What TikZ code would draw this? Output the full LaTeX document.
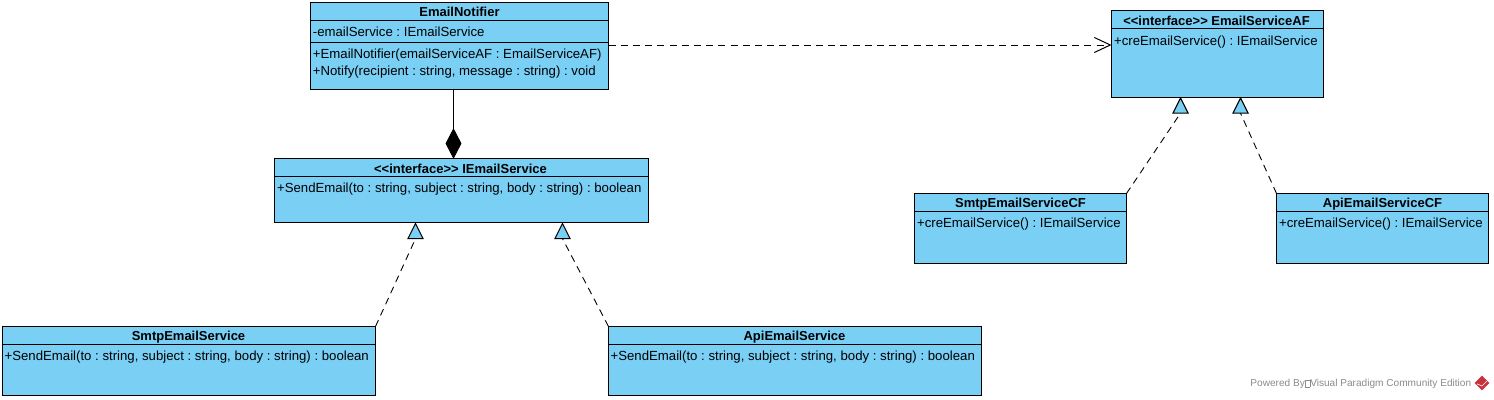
\documentclass[tikz,border=0pt]{standalone}
\usepackage{fontspec}
\setmainfont{Liberation Sans}
\usetikzlibrary{shapes.geometric,arrows.meta}
\definecolor{classblue}{HTML}{7ACFF5}
\definecolor{markgray}{HTML}{8A8A8A}
\definecolor{markred}{HTML}{C8323C}
\frenchspacing
\tikzset{
  classbox/.style={draw,fill=classblue,anchor=north west,inner sep=0pt,outer sep=0pt,line width=0.55pt},
  classtitle/.style={anchor=base,inner sep=0pt,font=\fontsize{6.5}{7}\selectfont\bfseries},
  member/.style={anchor=base west,inner sep=0pt,font=\fontsize{6.6}{7}\selectfont},
  rule/.style={line width=0.55pt},
  realizetip/.style={draw,fill=classblue,isosceles triangle,isosceles triangle stretches,shape border rotate=90,anchor=apex,inner sep=0pt,outer sep=0pt,minimum width=7.6pt,minimum height=7.6pt,line width=0.55pt},
  composetip/.style={draw,fill=black,diamond,inner sep=0pt,outer sep=0pt,minimum width=7.5pt,minimum height=14.5pt},
  realize/.style={dashed,dash pattern=on 3.5pt off 2.6pt,line width=0.45pt},
  depends/.style={realize,-{Straight Barb[length=8pt,width=7.5pt,line width=0.5pt]}},
}
\begin{document}
\begin{tikzpicture}[x=0.5pt,y=-0.5pt]
\useasboundingbox (0,0) rectangle (1494,400);

% classes
\node [classbox,minimum width=149pt,minimum height=43.5pt] (notifier) at (310.5,2.5) {};
\node [classtitle] (notifiertitle) at (459.5,17) {EmailNotifier};
\node [member] (notifierattr) at (312.5,36.5) {-emailService : IEmailService};
\node [member] (notifierctor) at (312.5,58.2) {+EmailNotifier(emailServiceAF : EmailServiceAF)};
\node [member] (notifiernotify) at (312.5,76) {+Notify(recipient : string, message : string) : void};
\path [draw,rule]
    (310.5,20.5) -- (608.5,20.5)
    (310.5,42.5) -- (608.5,42.5)
;

\node [classbox,minimum width=187pt,minimum height=32pt] (iface) at (274.5,158.5) {};
\node [classtitle] (ifacetitle) at (460.5,173.4) {<{}<interface>{}> IEmailService};
\node [member] (ifacesend) at (276.7,192.7) {+SendEmail(to : string, subject : string, body : string) : boolean};
\draw [rule] (274.5,176.5) -- (648.5,176.5);

\node [classbox,minimum width=186.5pt,minimum height=34.5pt] (smtp) at (2.5,326.5) {};
\node [classtitle] (smtptitle) at (188.5,340.7) {SmtpEmailService};
\node [member] (smtpsend) at (4.2,361) {+SendEmail(to : string, subject : string, body : string) : boolean};
\draw [rule] (2.5,344.5) -- (375.5,344.5);

\node [classbox,minimum width=186.5pt,minimum height=34.5pt] (api) at (608.5,326.5) {};
\node [classtitle] (apititle) at (794.5,340.7) {ApiEmailService};
\node [member] (apisend) at (610.2,361) {+SendEmail(to : string, subject : string, body : string) : boolean};
\draw [rule] (608.5,344.5) -- (981.5,344.5);

\node [classbox,minimum width=106pt,minimum height=43.5pt] (af) at (1111.5,10.5) {};
\node [classtitle] (aftitle) at (1216.5,25.2) {<{}<interface>{}> EmailServiceAF};
\node [member] (afcreate) at (1113.7,45.5) {+creEmailService() : IEmailService};
\draw [rule] (1111.5,28.5) -- (1323.5,28.5);

\node [classbox,minimum width=106pt,minimum height=35pt] (smtpcf) at (914.5,193.5) {};
\node [classtitle] (smtpcftitle) at (1020.5,208) {SmtpEmailServiceCF};
\node [member] (smtpcfcreate) at (916.7,227.3) {+creEmailService() : IEmailService};
\draw [rule] (914.5,211.5) -- (1126.5,211.5);

\node [classbox,minimum width=106pt,minimum height=35pt] (apicf) at (1276.5,193.5) {};
\node [classtitle] (apicftitle) at (1382.5,208) {ApiEmailServiceCF};
\node [member] (apicfcreate) at (1278.7,227.3) {+creEmailService() : IEmailService};
\draw [rule] (1276.5,211.5) -- (1488.5,211.5);

% relations
\node [composetip] (diam) at (453.5,143.5) {};
\draw [rule] (notifier.south -| diam.north) -- (diam.north);

\draw [depends] ([yshift=0.5pt]notifier.east) -- ([yshift=0.5pt]notifier.east -| af.west);

\node [realizetip] (tipa) at (415.5,223.5) {};
\node [realizetip] (tipb) at (562.5,223.5) {};
\node [realizetip] (tipc) at (1180.5,98) {};
\node [realizetip] (tipd) at (1240.5,98) {};

\draw [realize] (smtp.north east) -- (tipa.south);
\draw [realize] (api.north west) -- (tipb.south);
\draw [realize] (smtpcf.north east) -- (tipc.south);
\draw [realize] (apicf.north west) -- (tipd.south);

% watermark
\node [anchor=base west,inner sep=0pt,text=markgray,font=\fontsize{5.05}{6}\selectfont] (powered) at (1250,387)
    {Powered By{\fboxsep=0pt\fboxrule=0.15pt\fbox{\rule{0pt}{3.6pt}\hspace{2.4pt}}}Visual Paradigm Community Edition};
\node [diamond,fill=markred,inner sep=0pt,minimum width=7.5pt,minimum height=7.5pt] (logo) at (1482,383) {};
\draw [white,line width=0.3pt] (logo.west) ++(3,1) -- (1482,386) -- (1487,381);
\end{tikzpicture}
\end{document}
